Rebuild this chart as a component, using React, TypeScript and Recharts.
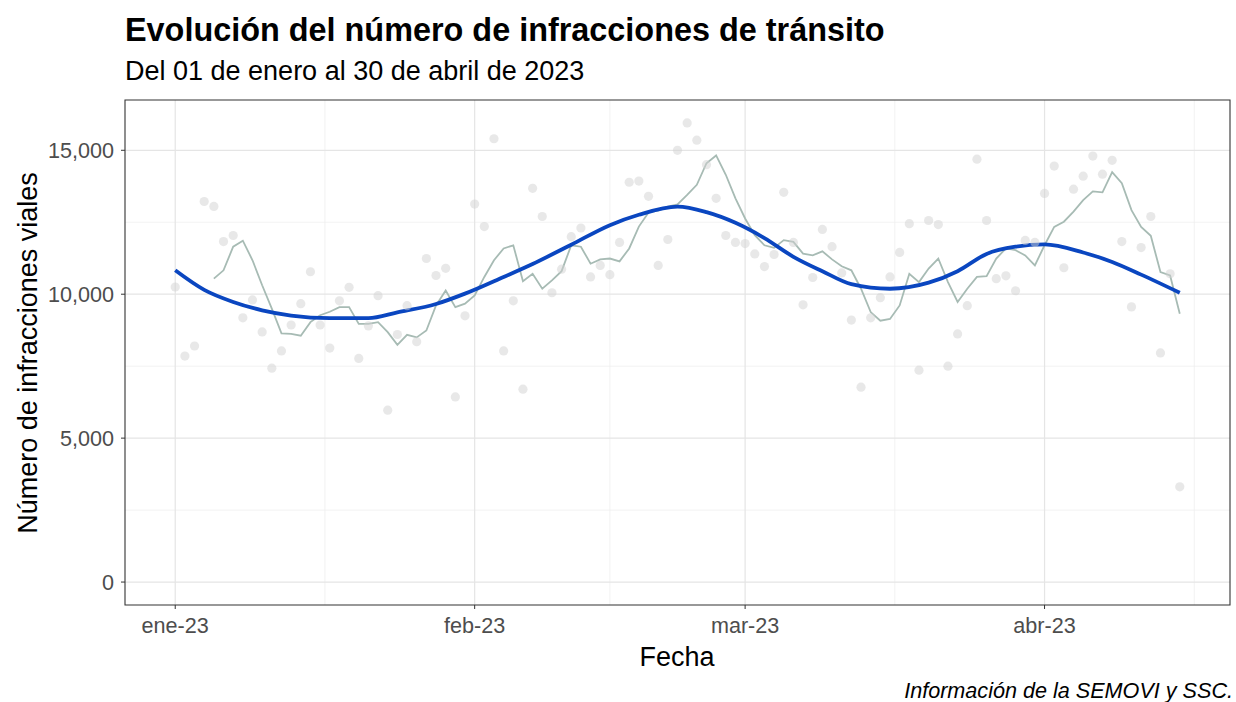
import React from 'react';
import { ComposedChart, XAxis, YAxis, CartesianGrid, Scatter, Line, ReferenceArea } from 'recharts';

// días desde el 01 de enero de 2023 (índice del arreglo = día)
const infracciones = [
  10250, 7850, 8200, 13220, 13050, 11830, 12040, 9180, 9800, 8690,
  7430, 8030, 8930, 9670, 10780, 8930, 8130, 9770, 10240, 7770,
  8900, 9950, 5970, 8600, 9600, 8350, 11240, 10650, 10900, 6430,
  9250, 13130, 12350, 15400, 8030, 9770, 6700, 13680, 12700, 10050,
  10870, 12000, 12300, 10600, 11000, 10680, 11800, 13890, 13930, 13400,
  11000, 11900, 15000, 15950, 15350, 14500, 13330, 12040, 11800, 11760,
  11400, 10960, 11380, 13540, 11800, 9630, 10580, 12250, 11650, 10740,
  9100, 6770, 9180, 9880, 10600, 11450, 12450, 7360, 12560, 12420,
  7500, 8620, 9600, 14690, 12560, 10540, 10640, 10120, 11870, 11800,
  13500, 14450, 10920, 13650, 14100, 14800, 14170, 14650, 11830, 9560,
  11620, 12700, 7960, 10710, 3310,
];

const promedioMovil = [
  null, null, null, null, 10540, 10830, 11650, 11860, 11180, 10310,
  9500, 8640, 8620, 8560, 9030, 9270, 9390, 9550, 9550, 8970,
  8970, 9030, 8680, 8240, 8590, 8500, 8740, 9610, 10130, 9550,
  9670, 9960, 10600, 11180, 11590, 11700, 10450, 10710, 10190, 10480,
  10800, 11700, 11650, 11060, 11210, 11240, 11140, 11590, 12350, 12840,
  12900, 13040, 13120, 13450, 13800, 14550, 14820, 14150, 13330, 12630,
  12050, 11700, 11610, 11880, 11820, 11410, 11350, 11490, 11210, 10970,
  10830, 10190, 9380, 9080, 9140, 9610, 10710, 10420, 10890, 11240,
  10420, 9730, 10190, 10600, 10630, 11240, 11590, 11530, 11350, 11000,
  11700, 12340, 12520, 12870, 13270, 13570, 13540, 14240, 13860, 12920,
  12340, 12030, 10770, 10650, 9320,
];

// curva suavizada (azul)
const suavizadoDias = [0, 3, 6, 9, 12, 16, 20, 23, 27, 30, 34, 37, 41, 45, 48, 52, 55, 58, 61, 64, 67, 70, 74, 78, 81, 84, 87, 90, 94, 97, 100, 104];
const suavizadoValores = [10830, 10150, 9730, 9440, 9260, 9170, 9170, 9370, 9660, 10020, 10600, 11050, 11720, 12400, 12760, 13040, 12850, 12480, 11950, 11300, 10800, 10350, 10190, 10400, 10800, 11400, 11650, 11730, 11450, 11120, 10680, 10050];

const mesesDias = [0, 31, 59, 90];
const mesesEtiquetas = ['ene-23', 'feb-23', 'mar-23', 'abr-23'];
const menoresX = [15.5, 45, 74.5, 105.5];
const valoresY = [0, 5000, 10000, 15000];
const menoresY = [2500, 7500, 12500];

const X_DOMINIO: [number, number] = [-5.2, 109.2];
const Y_DOMINIO: [number, number] = [-797, 16747];

const FONT = '"Liberation Sans", Arial, Helvetica, sans-serif';

const datos = infracciones.map((v, i) => ({ dia: i, infracciones: v, promedio: promedioMovil[i] }));
const suavizado = suavizadoDias.map((d, i) => ({ dia: d, valor: suavizadoValores[i] }));

const Punto = (props: any) => (
  <circle cx={props.cx} cy={props.cy} r={4.6} fill="#d2d2d2" fillOpacity={0.5} />
);

const App: React.FC = () => {
  return (
    <div
      style={{
        position: 'absolute',
        left: 0,
        top: 0,
        width: 1236,
        height: 702,
        background: '#fff',
        fontFamily: FONT,
        overflow: 'hidden',
      }}
    >
      <div style={{ position: 'absolute', left: 125, top: 14, fontSize: 32.4, fontWeight: 700, lineHeight: 1, color: '#000' }}>
        Evolución del número de infracciones de tránsito
      </div>
      <div style={{ position: 'absolute', left: 125, top: 58, fontSize: 27, lineHeight: 1, color: '#000' }}>
        Del 01 de enero al 30 de abril de 2023
      </div>

      <ComposedChart
        width={1236}
        height={702}
        data={datos}
        margin={{ top: 100, right: 6, bottom: 0, left: 0 }}
        style={{ position: 'absolute', left: 0, top: 0 }}
      >
        <CartesianGrid
          stroke="#efefef"
          strokeWidth={0.8}
          horizontalValues={menoresY}
          verticalValues={menoresX}
        />
        <CartesianGrid
          stroke="#e5e5e5"
          strokeWidth={1.2}
          horizontalValues={valoresY}
          verticalValues={mesesDias}
        />
        <XAxis
          dataKey="dia"
          type="number"
          domain={X_DOMINIO}
          allowDataOverflow
          ticks={mesesDias}
          tickFormatter={(v: number) => mesesEtiquetas[mesesDias.indexOf(v)]}
          height={97}
          axisLine={false}
          tickLine={{ stroke: '#333' }}
          tickSize={4}
          tickMargin={9}
          tick={{ fill: '#4d4d4d', fontSize: 21.6, fontFamily: FONT }}
        />
        <YAxis
          type="number"
          domain={Y_DOMINIO}
          allowDataOverflow
          ticks={valoresY}
          tickFormatter={(v: number) => v.toLocaleString('en-US')}
          width={125}
          axisLine={false}
          tickLine={{ stroke: '#333' }}
          tickSize={4}
          tickMargin={7}
          tick={{ fill: '#4d4d4d', fontSize: 21.6, fontFamily: FONT }}
        />
        <Scatter dataKey="infracciones" shape={Punto} isAnimationActive={false} />
        <Line
          dataKey="promedio"
          type="linear"
          stroke="#a7bbb4"
          strokeWidth={1.8}
          dot={false}
          activeDot={false}
          isAnimationActive={false}
        />
        <Line
          data={suavizado}
          dataKey="valor"
          type="monotone"
          stroke="#0a46c0"
          strokeWidth={3.8}
          dot={false}
          activeDot={false}
          isAnimationActive={false}
        />
        <ReferenceArea
          x1={X_DOMINIO[0]}
          x2={X_DOMINIO[1]}
          y1={Y_DOMINIO[0]}
          y2={Y_DOMINIO[1]}
          fill="none"
          stroke="#333"
          strokeWidth={1.1}
          ifOverflow="visible"
        />
      </ComposedChart>

      <div
        style={{
          position: 'absolute',
          left: 28,
          top: 353,
          transform: 'translate(-50%, -50%) rotate(-90deg)',
          whiteSpace: 'nowrap',
          fontSize: 27,
          lineHeight: 1,
          color: '#000',
        }}
      >
        Número de infracciones viales
      </div>
      <div
        style={{
          position: 'absolute',
          left: 677,
          top: 657,
          transform: 'translate(-50%, -50%)',
          fontSize: 27,
          lineHeight: 1,
          color: '#000',
        }}
      >
        Fecha
      </div>
      <div
        style={{
          position: 'absolute',
          right: 3,
          top: 680,
          fontSize: 21.6,
          fontStyle: 'italic',
          lineHeight: 1,
          color: '#000',
        }}
      >
        Información de la SEMOVI y SSC.
      </div>
    </div>
  );
};

export default App;
